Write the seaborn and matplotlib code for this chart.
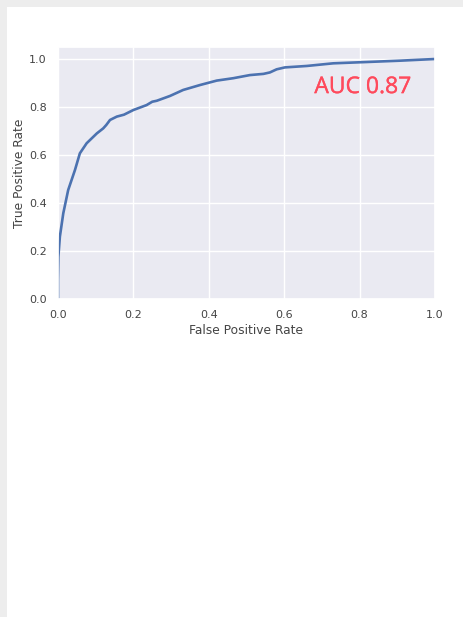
import numpy as np
import pandas as pd
import seaborn as sns
import matplotlib
matplotlib.use("Agg")
import matplotlib.pyplot as plt
import matplotlib.patheffects as pe
from matplotlib.patches import Rectangle

fpr = [0.0, 0.0, 0.001, 0.005, 0.014, 0.027, 0.045, 0.058, 0.076, 0.103, 0.12,
       0.128, 0.138, 0.156, 0.175, 0.2, 0.235, 0.25, 0.262, 0.297, 0.332, 0.377,
       0.421, 0.465, 0.509, 0.545, 0.562, 0.58, 0.602, 0.66, 0.73, 0.819, 0.907, 1.0]
tpr = [0.0, 0.08, 0.176, 0.26, 0.357, 0.454, 0.5375, 0.607, 0.649, 0.69, 0.711,
       0.725, 0.746, 0.76, 0.768, 0.7875, 0.808, 0.822, 0.826, 0.846, 0.871, 0.8917,
       0.91, 0.92, 0.933, 0.938, 0.944, 0.957, 0.965, 0.971, 0.982, 0.9875, 0.993, 1.0]
auc_label = "AUC 0.87"
x_ticks = [0.0, 0.2, 0.4, 0.6, 0.8, 1.0]
y_ticks = [0.0, 0.2, 0.4, 0.6, 0.8, 1.0]

sns.set_theme(style="darkgrid")
plt.rcParams["font.family"] = ["DejaVu Sans"]

W, H = 464, 617
fig = plt.figure(figsize=(W / 100, H / 100), dpi=100, facecolor="white")
# grey frame at left and top
fig.patches.append(Rectangle((0, 0), 7 / W, 1, transform=fig.transFigure,
                             facecolor="#ededed", edgecolor="none", zorder=0))
fig.patches.append(Rectangle((0, 1 - 7 / H), 1, 7 / H, transform=fig.transFigure,
                             facecolor="#ededed", edgecolor="none", zorder=0))

ax = fig.add_axes([58 / W, 1 - 299 / H, (435 - 58) / W, (299 - 47) / H])
df = pd.DataFrame({"fpr": fpr, "tpr": tpr})
sns.lineplot(data=df, x="fpr", y="tpr", ax=ax, color="#4c72b0", linewidth=1.9,
             sort=False, estimator=None)
ax.set_xlim(0, 1)
ax.set_ylim(0, 1.05)
ax.set_xticks(x_ticks)
ax.set_yticks(y_ticks)
ax.set_xticklabels([f"{v:.1f}" for v in x_ticks])
ax.set_yticklabels([f"{v:.1f}" for v in y_ticks])
ax.tick_params(labelsize=8, colors="#444444", pad=2)
ax.set_xlabel("False Positive Rate", fontsize=8.8, color="#444444", labelpad=3)
ax.set_ylabel("True Positive Rate", fontsize=8.8, color="#444444", labelpad=2)
ax.grid(color="white", linewidth=1)

t = ax.text(0.68, 0.883, auc_label, transform=ax.transData, fontsize=16.5,
            color="#ff4a5c", family=["Open Sans", "DejaVu Sans"],
            va="center", ha="left")
t.set_path_effects([pe.withStroke(linewidth=0.25, foreground="#ff4a5c")])

fig.savefig("out.png", dpi=100, facecolor="white")
